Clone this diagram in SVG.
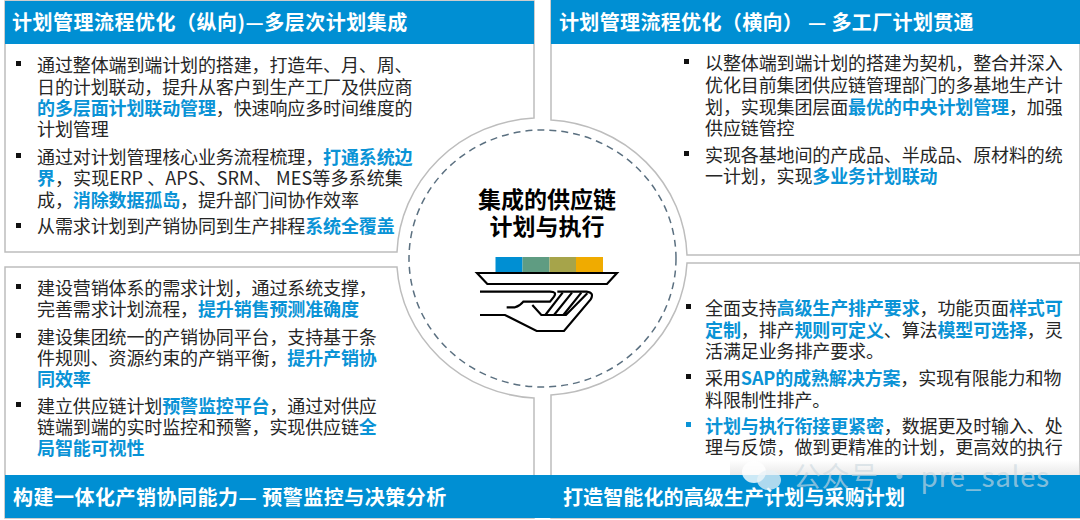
<svg xmlns="http://www.w3.org/2000/svg" width="1080" height="520" viewBox="0 0 1080 520">
<defs>
<style>
text{font-family:"Noto Sans CJK SC","Noto Sans",sans-serif}
.b{font-size:18px;fill:#262626;letter-spacing:-0.12px}
.b tspan.h{fill:#0a93d6;font-weight:700}
.t{font-size:20px;font-weight:700;fill:#fff}
.c{font-size:23px;font-weight:700;fill:#000;text-anchor:middle}
.p{fill:#fff;stroke:#bdbdbd;stroke-width:1.5}
.hd{fill:#008fd3}
.d{fill:#111}
.ic{fill:none;stroke:#000;stroke-width:6.500;stroke-linejoin:miter}
</style>
<linearGradient id="w" x1="0" y1="0" x2="0" y2="1"><stop offset="0" stop-color="#d8d8d8" stop-opacity="0"/><stop offset="1" stop-color="#d8d8d8" stop-opacity=".55"/></linearGradient>
</defs>
<rect width="1080" height="520" fill="#fff"/>
<g id="panel-tl">
<path class="p" d="M5 1H534V118A145 140 0 0 0 397 252H5Z"/>
<rect class="hd" x="5" y="1" width="529" height="43"/>
<text class="t" x="12" y="29.500" letter-spacing=".5">计划管理流程优化（纵向)—多层次计划集成</text>
<rect class="d" x="16" y="61" width="5" height="5"/><rect class="d" x="16" y="153" width="5" height="5"/><rect class="d" x="16" y="223" width="5" height="5"/>
<text class="b"><tspan x="37" y="72">通过整体端到端计划的搭建，打造年、月、周、</tspan><tspan x="37" y="93.500">日的计划联动，提升从客户到生产工厂及供应商</tspan><tspan x="37" y="115" class="h">的多层面计划联动管理</tspan><tspan>，快速响应多时间维度的</tspan><tspan x="37" y="136">计划管理</tspan><tspan x="37" y="164">通过对计划管理核心业务流程梳理，</tspan><tspan class="h">打通系统边</tspan><tspan x="37" y="185" class="h">界</tspan><tspan letter-spacing=".12">，实现ERP 、APS、SRM、 MES等多系统集</tspan><tspan x="37" y="206.500">成，</tspan><tspan class="h">消除数据孤岛</tspan><tspan>，提升部门间协作效率</tspan><tspan x="37" y="232.500">从需求计划到产销协同到生产排程</tspan><tspan class="h">系统全覆盖</tspan></text>
</g>
<g id="panel-tr">
<path class="p" d="M1080 0H551V120A145 140 0 0 1 687 255H1080Z"/>
<rect class="hd" x="551" y="0" width="529" height="44"/>
<text class="t" x="559" y="29.500" letter-spacing=".35">计划管理流程优化（横向） — 多工厂计划贯通</text>
<rect class="d" x="684" y="59" width="5" height="5"/><rect class="d" x="684" y="151" width="5" height="5"/>
<text class="b"><tspan x="705" y="70">以整体端到端计划的搭建为契机，整合并深入</tspan><tspan x="705" y="92">优化目前集团供应链管理部门的多基地生产计</tspan><tspan x="705" y="113.500">划，实现集团层面</tspan><tspan class="h">最优的中央计划管理</tspan><tspan>，加强</tspan><tspan x="705" y="135">供应链管控</tspan><tspan x="705" y="161.500">实现各基地间的产成品、半成品、原材料的统</tspan><tspan x="705" y="183">一计划，实现</tspan><tspan class="h">多业务计划联动</tspan></text>
</g>
<g id="panel-bl">
<path class="p" d="M5 518V267H397A145 140 0 0 0 534 398V518Z"/>
<rect class="d" x="16" y="284" width="5" height="5"/><rect class="d" x="16" y="333" width="5" height="5"/><rect class="d" x="16" y="402" width="5" height="5"/>
<text class="b"><tspan x="37" y="295">建设营销体系的需求计划，通过系统支撑，</tspan><tspan x="37" y="316">完善需求计划流程，</tspan><tspan class="h">提升销售预测准确度</tspan><tspan x="37" y="344">建设集团统一的产销协同平台，支持基于条</tspan><tspan x="37" y="365">件规则、资源约束的产销平衡，</tspan><tspan class="h">提升产销协</tspan><tspan x="37" y="386" class="h">同效率</tspan><tspan x="37" y="413">建立供应链计划</tspan><tspan class="h">预警监控平台</tspan><tspan>，通过对供应</tspan><tspan x="37" y="434">链端到端的实时监控和预警，实现供应链</tspan><tspan class="h">全</tspan><tspan x="37" y="455" class="h">局智能可视性</tspan></text>
</g>
<g id="panel-br">
<path class="p" d="M551 518V395A145 140 0 0 0 687 263H1080V518Z"/>
<rect class="d" x="686" y="304" width="5" height="5"/><rect class="d" x="686" y="374" width="5" height="5"/><rect x="686" y="422" width="5" height="5" fill="#0a93d6"/>
<text class="b"><tspan x="705" y="315">全面支持</tspan><tspan class="h">高级生产排产要求</tspan><tspan>，功能页面</tspan><tspan class="h">样式可</tspan><tspan x="705" y="337" class="h">定制</tspan><tspan>，排产</tspan><tspan class="h">规则可定义</tspan><tspan>、算法</tspan><tspan class="h">模型可选择</tspan><tspan>，灵</tspan><tspan x="705" y="358">活满足业务排产要求。</tspan><tspan x="705" y="385">采用</tspan><tspan class="h">SAP的成熟解决方案</tspan><tspan>，实现有限能力和物</tspan><tspan x="705" y="407">料限制性排产。</tspan><tspan x="705" y="433" class="h">计划与执行衔接更紧密</tspan><tspan>，数据更及时输入、处</tspan><tspan x="705" y="454">理与反馈，做到更精准的计划，更高效的执行</tspan></text>
</g>
<g id="footer-bars">
<rect class="hd" x="5" y="475" width="1075" height="43"/>
<text class="t" x="13" y="505" letter-spacing=".5">构建一体化产销协同能力— 预警监控与决策分析</text>
<text class="t" x="563" y="505" letter-spacing=".12">打造智能化的高级生产计划与采购计划</text>
</g>
<g id="center">
<ellipse cx="542.500" cy="258.500" rx="133.500" ry="128.500" fill="none" stroke="#5b7080" stroke-width="1.500" stroke-dasharray="7 5"/>
<text class="c" x="547" y="208">集成的供应链</text>
<text class="c" x="547" y="235">计划与执行</text>
<rect x="495.500" y="257" width="27" height="16" fill="#008fd3"/><rect x="522.500" y="257" width="27" height="16" fill="#5f9c82"/><rect x="549.500" y="257" width="26.500" height="16" fill="#a6a44a"/><rect x="576" y="257" width="27" height="16" fill="#f0ab00"/>
<g transform="translate(470 250) scale(.3333)">
<path class="ic" d="M21 69H441L411 102H52Z"/>
<path class="ic" d="M30 125H240Q262 125 252 140L240 155H160Q150 168 135 172H110"/>
<path class="ic" d="M30 195H105L200 243H282L362 148Q374 128 350 125H262"/>
<path class="ic" d="M187 165L214 195H288L352 130M226 195L278 128M252 195L306 128M280 195L334 128"/>
</g>
</g>
<g id="watermark">
<rect x="730" y="460" width="350" height="15" fill="url(#w)"/>
<ellipse cx="754" cy="472" rx="12" ry="11" fill="#fff" fill-opacity=".8"/><ellipse cx="769" cy="480" rx="12" ry="10" fill="#e8f2f7" fill-opacity=".75"/>
<text x="793" y="487" font-size="28" letter-spacing=".5" fill="#cdd9e0" fill-opacity=".65">公众号 · pre_sales</text>
</g>
</svg>
